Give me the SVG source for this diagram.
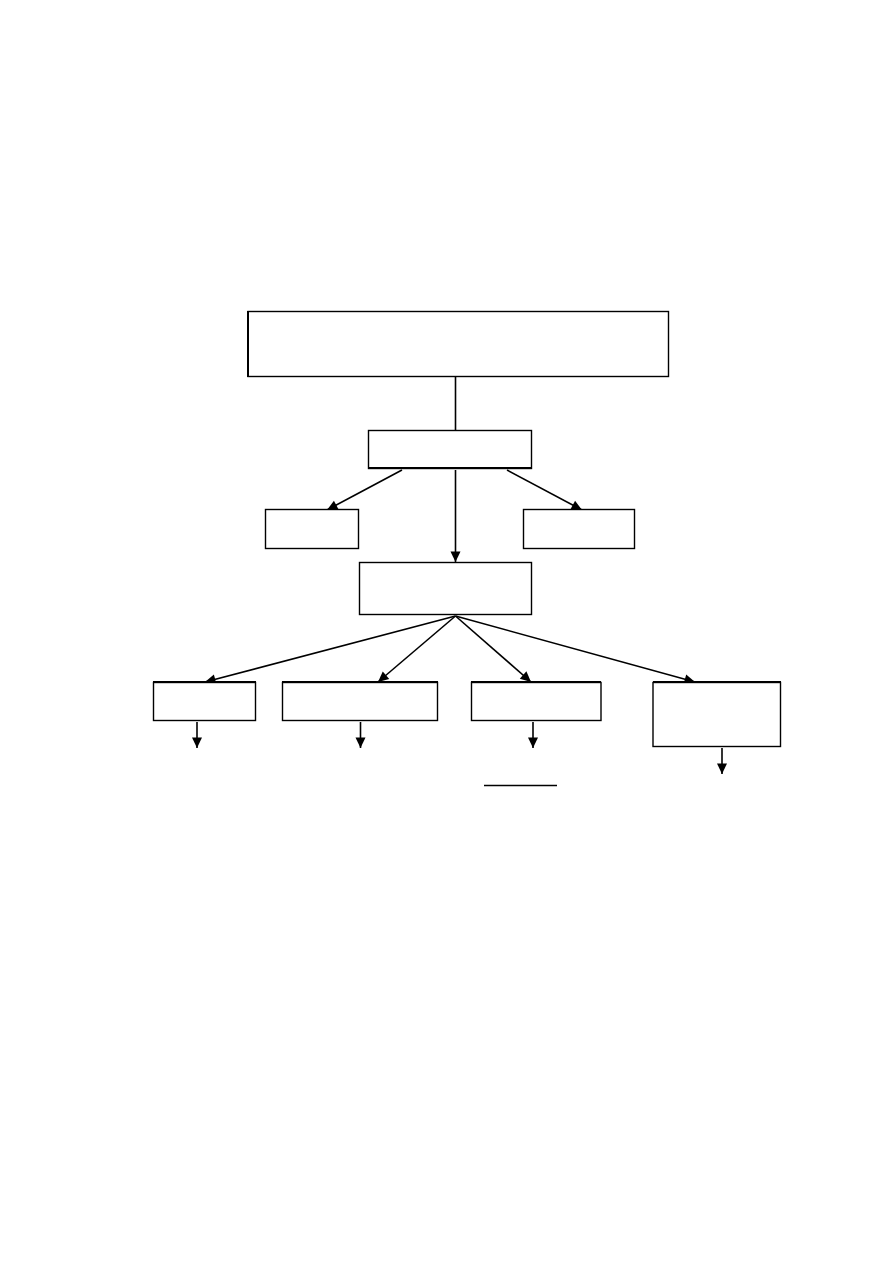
<svg xmlns="http://www.w3.org/2000/svg" width="893" height="1263" viewBox="0 0 893 1263">
<style>
.box{fill:#fff;stroke:#000;stroke-width:1.4}
.c{stroke:#000;stroke-width:1.6;fill:none}
.a{marker-end:url(#ah)}
</style>
<defs>
<marker id="ah" markerUnits="userSpaceOnUse" markerWidth="13" markerHeight="13" viewBox="0 0 13 13" refX="11.5" refY="6.5" orient="auto">
<path d="M1,1.5 L11.5,6.5 L1,11.5 Z" fill="#000"/>
</marker>
</defs>
<rect width="893" height="1263" fill="#fff"/>
<g id="connectors">
<line class="c" x1="455.5" y1="377" x2="455.5" y2="430"/>
<line class="c a" x1="402" y1="470" x2="327" y2="510"/>
<line class="c a" x1="507" y1="470" x2="582" y2="510"/>
<line class="c a" x1="455.5" y1="470" x2="455.5" y2="562"/>
<line class="c a" x1="455.5" y1="616" x2="205" y2="682"/>
<line class="c a" x1="455.5" y1="616" x2="378" y2="682"/>
<line class="c a" x1="455.5" y1="616" x2="531" y2="682"/>
<line class="c a" x1="455.5" y1="616" x2="695" y2="682"/>
<line class="c a" x1="197" y1="722" x2="197" y2="748"/>
<line class="c a" x1="360.5" y1="722" x2="360.5" y2="748"/>
<line class="c a" x1="533" y1="722" x2="533" y2="748"/>
<line class="c a" x1="722" y1="748" x2="722" y2="774"/>
</g>
<g id="n-top"><rect class="box" x="248" y="311.5" width="420.5" height="65"/><line x1="248" y1="311" x2="248" y2="377" stroke="#000" stroke-width="2"/></g>
<g id="n-mid1"><rect class="box" x="368.5" y="430.5" width="163" height="38"/><line x1="368" y1="468" x2="532" y2="468" stroke="#000" stroke-width="2"/></g>
<g id="n-left"><rect class="box" x="265.5" y="509.5" width="93" height="39"/></g>
<g id="n-right"><rect class="box" x="523.5" y="509.5" width="111" height="39"/></g>
<g id="n-mid2"><rect class="box" x="359.5" y="562.5" width="172" height="52"/></g>
<g id="n-b1"><rect class="box" x="153.5" y="682.5" width="102" height="38"/><line x1="153" y1="682" x2="256" y2="682" stroke="#000" stroke-width="2"/></g>
<g id="n-b2"><rect class="box" x="282.5" y="682.5" width="155" height="38"/><line x1="282" y1="682" x2="438" y2="682" stroke="#000" stroke-width="2"/></g>
<g id="n-b3"><rect class="box" x="471.5" y="682.5" width="129.5" height="38"/><line x1="471" y1="682" x2="601" y2="682" stroke="#000" stroke-width="2"/></g>
<g id="n-b4"><rect class="box" x="653" y="682.5" width="127.5" height="64"/><line x1="653" y1="682" x2="781" y2="682" stroke="#000" stroke-width="2"/></g>
<line x1="484" y1="785.5" x2="557" y2="785.5" stroke="#000" stroke-width="1.3"/>
</svg>
